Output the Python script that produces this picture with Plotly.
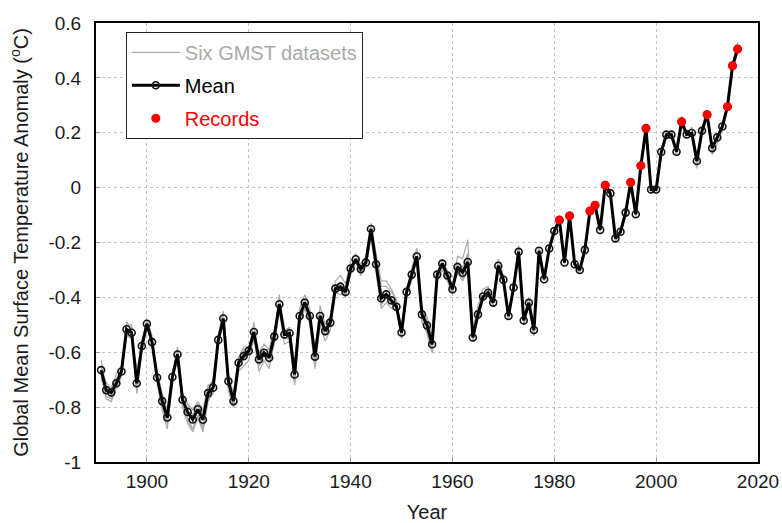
import plotly.graph_objects as go

years = list(range(1891, 2017))

mean_anomaly = [
    -0.665, -0.738, -0.747, -0.713, -0.670, -0.516, -0.529, -0.713, -0.577, -0.496,
    -0.563, -0.692, -0.778, -0.838, -0.690, -0.608, -0.773, -0.818, -0.845, -0.808,
    -0.846, -0.749, -0.729, -0.555, -0.477, -0.706, -0.778, -0.638, -0.614, -0.595,
    -0.526, -0.626, -0.602, -0.620, -0.543, -0.425, -0.535, -0.531, -0.681, -0.468,
    -0.419, -0.468, -0.616, -0.468, -0.523, -0.492, -0.368, -0.361, -0.380, -0.295,
    -0.261, -0.297, -0.273, -0.151, -0.279, -0.403, -0.389, -0.411, -0.434, -0.528,
    -0.380, -0.317, -0.251, -0.462, -0.502, -0.571, -0.317, -0.277, -0.320, -0.370,
    -0.289, -0.310, -0.271, -0.546, -0.462, -0.397, -0.383, -0.419, -0.285, -0.336,
    -0.468, -0.364, -0.234, -0.484, -0.420, -0.519, -0.230, -0.334, -0.222, -0.158,
    -0.118, -0.273, -0.103, -0.279, -0.300, -0.227, -0.085, -0.064, -0.154, 0.009,
    -0.021, -0.185, -0.161, -0.091, 0.019, -0.097, 0.080, 0.216, -0.007, -0.007,
    0.130, 0.193, 0.193, 0.131, 0.240, 0.194, 0.199, 0.097, 0.207, 0.266,
    0.144, 0.183, 0.223, 0.295, 0.444, 0.505,
]

dataset_a = [
    -0.65, -0.77, -0.78, -0.73, -0.69, -0.50, -0.50, -0.75, -0.60, -0.51,
    -0.57, -0.71, -0.81, -0.88, -0.71, -0.59, -0.80, -0.86, -0.89, -0.84,
    -0.89, -0.78, -0.75, -0.57, -0.47, -0.74, -0.80, -0.67, -0.65, -0.63,
    -0.55, -0.67, -0.63, -0.66, -0.57, -0.45, -0.57, -0.56, -0.72, -0.50,
    -0.44, -0.50, -0.66, -0.50, -0.56, -0.52, -0.39, -0.37, -0.40, -0.31,
    -0.27, -0.32, -0.28, -0.14, -0.26, -0.36, -0.36, -0.38, -0.41, -0.54,
    -0.39, -0.34, -0.26, -0.49, -0.53, -0.60, -0.34, -0.30, -0.34, -0.39,
    -0.28, -0.29, -0.24, -0.56, -0.48, -0.41, -0.39, -0.43, -0.28, -0.34,
    -0.48, -0.36, -0.22, -0.50, -0.43, -0.54, -0.22, -0.34, -0.22, -0.16,
    -0.11, -0.28, -0.09, -0.29, -0.31, -0.24, -0.08, -0.05, -0.15, 0.02,
    -0.02, -0.20, -0.17, -0.10, 0.03, -0.11, 0.09, 0.23, -0.02, -0.01,
    0.13, 0.19, 0.19, 0.12, 0.23, 0.18, 0.19, 0.07, 0.20, 0.26,
    0.12, 0.16, 0.21, 0.29, 0.43, 0.52,
]
dataset_b = [
    -0.63, -0.73, -0.76, -0.70, -0.66, -0.49, -0.51, -0.74, -0.58, -0.48,
    -0.54, -0.69, -0.80, -0.86, -0.68, -0.58, -0.78, -0.84, -0.88, -0.83,
    -0.88, -0.77, -0.74, -0.54, -0.45, -0.72, -0.80, -0.63, -0.60, -0.59,
    -0.49, -0.65, -0.61, -0.64, -0.54, -0.39, -0.54, -0.53, -0.71, -0.44,
    -0.39, -0.44, -0.64, -0.43, -0.50, -0.48, -0.34, -0.32, -0.35, -0.27,
    -0.24, -0.28, -0.25, -0.13, -0.24, -0.34, -0.34, -0.37, -0.41, -0.55,
    -0.37, -0.30, -0.22, -0.45, -0.50, -0.58, -0.31, -0.27, -0.30, -0.36,
    -0.25, -0.26, -0.19, -0.52, -0.43, -0.37, -0.36, -0.40, -0.26, -0.32,
    -0.46, -0.35, -0.21, -0.47, -0.40, -0.51, -0.22, -0.32, -0.21, -0.15,
    -0.11, -0.27, -0.09, -0.28, -0.30, -0.23, -0.08, -0.05, -0.14, 0.02,
    -0.01, -0.19, -0.16, -0.08, 0.03, -0.10, 0.08, 0.21, 0.00, 0.00,
    0.14, 0.20, 0.20, 0.14, 0.26, 0.20, 0.22, 0.10, 0.22, 0.28,
    0.14, 0.18, 0.22, 0.31, 0.45, 0.53,
]
dataset_c = [
    -0.69, -0.76, -0.77, -0.72, -0.68, -0.54, -0.54, -0.74, -0.59, -0.51,
    -0.56, -0.70, -0.79, -0.86, -0.71, -0.62, -0.79, -0.85, -0.88, -0.83,
    -0.87, -0.76, -0.74, -0.56, -0.48, -0.73, -0.80, -0.65, -0.62, -0.61,
    -0.54, -0.64, -0.61, -0.64, -0.55, -0.44, -0.55, -0.55, -0.71, -0.48,
    -0.43, -0.48, -0.65, -0.48, -0.54, -0.50, -0.38, -0.37, -0.39, -0.31,
    -0.26, -0.30, -0.26, -0.14, -0.28, -0.39, -0.39, -0.42, -0.44, -0.55,
    -0.39, -0.33, -0.25, -0.49, -0.53, -0.60, -0.33, -0.29, -0.33, -0.38,
    -0.29, -0.30, -0.26, -0.56, -0.47, -0.40, -0.38, -0.42, -0.28, -0.34,
    -0.48, -0.36, -0.22, -0.49, -0.42, -0.54, -0.22, -0.33, -0.22, -0.16,
    -0.12, -0.27, -0.10, -0.28, -0.30, -0.23, -0.09, -0.06, -0.15, 0.01,
    -0.02, -0.20, -0.16, -0.09, 0.02, -0.10, 0.09, 0.23, -0.01, -0.01,
    0.13, 0.19, 0.19, 0.13, 0.25, 0.19, 0.20, 0.09, 0.21, 0.28,
    0.13, 0.18, 0.22, 0.31, 0.45, 0.52,
]
dataset_d = [
    -0.66, -0.71, -0.73, -0.68, -0.65, -0.53, -0.54, -0.73, -0.56, -0.49,
    -0.56, -0.68, -0.76, -0.81, -0.67, -0.61, -0.75, -0.79, -0.83, -0.79,
    -0.82, -0.73, -0.70, -0.56, -0.50, -0.69, -0.75, -0.62, -0.59, -0.58,
    -0.54, -0.60, -0.57, -0.59, -0.52, -0.45, -0.52, -0.51, -0.64, -0.48,
    -0.44, -0.48, -0.58, -0.49, -0.49, -0.47, -0.38, -0.39, -0.39, -0.32,
    -0.27, -0.31, -0.29, -0.18, -0.31, -0.44, -0.42, -0.44, -0.45, -0.50,
    -0.37, -0.32, -0.26, -0.44, -0.48, -0.54, -0.32, -0.28, -0.32, -0.36,
    -0.31, -0.34, -0.30, -0.54, -0.45, -0.40, -0.37, -0.42, -0.30, -0.34,
    -0.46, -0.36, -0.24, -0.47, -0.42, -0.51, -0.23, -0.33, -0.22, -0.16,
    -0.12, -0.26, -0.10, -0.28, -0.30, -0.23, -0.09, -0.06, -0.15, 0.00,
    -0.02, -0.18, -0.15, -0.09, 0.01, -0.09, 0.07, 0.21, -0.01, -0.01,
    0.13, 0.19, 0.19, 0.14, 0.24, 0.19, 0.20, 0.11, 0.21, 0.27,
    0.15, 0.19, 0.22, 0.30, 0.44, 0.51,
]
dataset_e = [
    -0.70, -0.73, -0.73, -0.70, -0.66, -0.54, -0.55, -0.66, -0.58, -0.50,
    -0.57, -0.67, -0.75, -0.81, -0.68, -0.64, -0.75, -0.79, -0.81, -0.78,
    -0.81, -0.72, -0.71, -0.56, -0.49, -0.68, -0.76, -0.62, -0.58, -0.58,
    -0.53, -0.61, -0.59, -0.59, -0.52, -0.43, -0.53, -0.52, -0.65, -0.46,
    -0.41, -0.46, -0.59, -0.46, -0.51, -0.48, -0.37, -0.37, -0.38, -0.30,
    -0.26, -0.30, -0.27, -0.16, -0.30, -0.43, -0.40, -0.41, -0.42, -0.51,
    -0.37, -0.31, -0.26, -0.44, -0.47, -0.55, -0.31, -0.27, -0.31, -0.36,
    -0.30, -0.33, -0.30, -0.55, -0.46, -0.41, -0.38, -0.42, -0.30, -0.35,
    -0.47, -0.37, -0.25, -0.47, -0.42, -0.51, -0.24, -0.33, -0.23, -0.17,
    -0.13, -0.27, -0.11, -0.28, -0.30, -0.23, -0.10, -0.07, -0.16, 0.00,
    -0.03, -0.19, -0.16, -0.09, 0.01, -0.10, 0.07, 0.22, -0.01, -0.02,
    0.12, 0.18, 0.18, 0.12, 0.23, 0.19, 0.19, 0.11, 0.20, 0.26,
    0.15, 0.18, 0.22, 0.29, 0.43, 0.49,
]
dataset_f = [
    -0.69, -0.74, -0.73, -0.73, -0.68, -0.52, -0.54, -0.69, -0.57, -0.51,
    -0.56, -0.69, -0.77, -0.82, -0.69, -0.62, -0.75, -0.79, -0.81, -0.79,
    -0.83, -0.74, -0.74, -0.57, -0.49, -0.70, -0.77, -0.65, -0.62, -0.61,
    -0.53, -0.61, -0.59, -0.60, -0.54, -0.42, -0.53, -0.51, -0.65, -0.46,
    -0.41, -0.46, -0.60, -0.46, -0.52, -0.49, -0.36, -0.35, -0.37, -0.29,
    -0.26, -0.29, -0.27, -0.15, -0.29, -0.42, -0.40, -0.42, -0.44, -0.53,
    -0.39, -0.32, -0.25, -0.45, -0.49, -0.55, -0.31, -0.27, -0.32, -0.37,
    -0.30, -0.33, -0.30, -0.56, -0.46, -0.40, -0.39, -0.42, -0.31, -0.34,
    -0.47, -0.36, -0.24, -0.48, -0.43, -0.51, -0.25, -0.33, -0.22, -0.16,
    -0.13, -0.27, -0.11, -0.27, -0.29, -0.22, -0.10, -0.07, -0.15, 0.01,
    -0.02, -0.18, -0.16, -0.09, 0.02, -0.10, 0.08, 0.22, -0.01, -0.01,
    0.13, 0.19, 0.19, 0.13, 0.23, 0.19, 0.20, 0.12, 0.21, 0.27,
    0.15, 0.19, 0.23, 0.30, 0.44, 0.50,
]
datasets = [dataset_a, dataset_b, dataset_c, dataset_d, dataset_e, dataset_f]

record_years = [1981, 1983, 1987, 1988, 1990, 1995, 1997, 1998, 2005, 2010, 2014, 2015, 2016]

x_tick_vals = [1900, 1920, 1940, 1960, 1980, 2000, 2020]
y_tick_vals = [-1, -0.8, -0.6, -0.4, -0.2, 0, 0.2, 0.4, 0.6]
y_tick_text = ["-1", "-0.8", "-0.6", "-0.4", "-0.2", "0", "0.2", "0.4", "0.6"]

FONT = "Liberation Sans, Arial, sans-serif"

fig = go.Figure()

for i, ds in enumerate(datasets):
    fig.add_trace(go.Scatter(
        x=years, y=ds, mode="lines",
        line=dict(color="#ababab", width=1.2),
        name='<span style="color:#aaaaaa">Six GMST datasets</span>',
        legendgroup="ds", showlegend=(i == 0), hoverinfo="skip",
    ))

fig.add_trace(go.Scatter(
    x=years, y=mean_anomaly, mode="lines+markers",
    line=dict(color="black", width=3),
    marker=dict(symbol="circle-open", size=7, color="#111111", line=dict(width=1.6, color="#111111")),
    name="Mean", legendgroup="mean",
))

rec_vals = [mean_anomaly[years.index(yr)] for yr in record_years]
fig.add_trace(go.Scatter(
    x=record_years, y=rec_vals, mode="markers",
    marker=dict(symbol="circle", size=9, color="#ff0000"),
    name='<span style="color:#ff0000">Records</span>', legendgroup="rec",
))

axis_common = dict(
    showline=True, linecolor="black", linewidth=2, mirror=True,
    showgrid=True, gridcolor="#c4c4c4", gridwidth=1, griddash="dot",
    ticks="inside", ticklen=4, tickcolor="#999999",
    zeroline=False, automargin=False,
    tickfont=dict(family=FONT, size=19, color="#1a1a1a"),
)

fig.update_layout(
    width=782, height=523,
    margin=dict(l=96, r=24, t=23, b=61, autoexpand=False),
    paper_bgcolor="white", plot_bgcolor="white",
    font=dict(family=FONT, color="#1a1a1a"),
    showlegend=True,
    legend=dict(
        x=0.045, y=0.98, xanchor="left", yanchor="top",
        bgcolor="white", bordercolor="#222222", borderwidth=1,
        font=dict(family=FONT, size=20, color="black"),
        tracegroupgap=4, itemwidth=48,
    ),
    xaxis=dict(
        range=[1890, 2020], tickvals=x_tick_vals,
        title=dict(text="Year", font=dict(family=FONT, size=20, color="#1a1a1a"), standoff=14),
        ticklabelstandoff=1,
        **axis_common,
    ),
    yaxis=dict(
        range=[-1, 0.6], tickvals=y_tick_vals, ticktext=y_tick_text,
        title=dict(text="Global Mean Surface Temperature Anomaly (<sup>o</sup>C)",
                   font=dict(family=FONT, size=20, color="#1a1a1a"), standoff=14),
        ticklabelstandoff=9,
        **axis_common,
    ),
)

fig.write_html("out.html")
